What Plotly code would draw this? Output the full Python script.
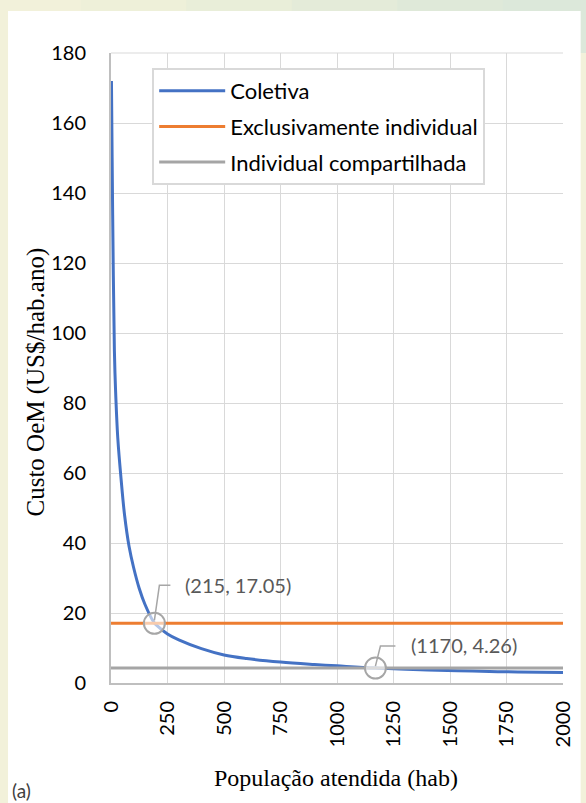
import plotly.graph_objects as go

# ---- data ----
pop_coletiva = [2, 5, 10, 15, 20, 30, 45, 60, 80, 100, 125, 150, 190, 200, 250, 300,
                400, 500, 600, 750, 900, 1000, 1170, 1400, 1600, 1800, 2000]
custo_coletiva = [172, 150, 118, 95, 84, 70, 58, 48, 39, 33, 27, 22.5, 17.3, 16.6, 14.0, 12.3,
                  9.8, 8.0, 7.0, 6.0, 5.3, 4.9, 4.26, 3.75, 3.4, 3.15, 3.0]
pop_range = [0, 2000]
custo_exclusiva = [17.05, 17.05]
custo_compartilhada = [4.26, 4.26]

series_names = ["Coletiva", "Exclusivamente individual", "Individual compartilhada"]
series_colors = ["#4472C4", "#ED7D31", "#A5A5A5"]

intersect_x = [192, 1170]
intersect_y = [17.05, 4.26]
intersect_labels = ["(215, 17.05)", "(1170, 4.26)"]

x_ticks = [0, 250, 500, 750, 1000, 1250, 1500, 1750, 2000]
y_ticks = [0, 20, 40, 60, 80, 100, 120, 140, 160, 180]

x_title = "População atendida (hab)"
y_title = "Custo OeM (US$/hab.ano)"
panel_label = "(a)"

SANS = "Lato, Open Sans, sans-serif"
SERIF = "Liberation Serif, Times New Roman, serif"

fig = go.Figure()

fig.add_trace(go.Scatter(x=pop_coletiva, y=custo_coletiva, mode="lines", legendgroup="a",
                         name=series_names[0], line=dict(color=series_colors[0], width=3, shape="spline")))
fig.add_trace(go.Scatter(x=pop_range, y=custo_exclusiva, mode="lines", legendgroup="b",
                         name=series_names[1], line=dict(color=series_colors[1], width=3)))
fig.add_trace(go.Scatter(x=pop_range, y=custo_compartilhada, mode="lines", legendgroup="c",
                         name=series_names[2], line=dict(color=series_colors[2], width=3)))
fig.add_trace(go.Scatter(x=intersect_x, y=intersect_y, mode="markers", showlegend=False,
                         marker=dict(size=21, color="rgba(255,255,255,0.6)",
                                     line=dict(color="#A6A6A6", width=2))))

W, H = 586, 803
L, R, T, B = 111, 572, 53, 683
pw, ph = R - L, B - T

shapes = []
# background decoration
shapes.append(dict(type="rect", xref="paper", yref="paper", x0=-0.3, x1=1.1, y0=-0.2, y1=1.1,
                   fillcolor="#F2F1DA", line=dict(width=0), layer="below"))
top_cols = ["#F2F1DA", "#EEF0D9", "#E9EED9", "#E4EBD9", "#DFE9D9", "#DCE8DA"]
n = len(top_cols)
for i, c in enumerate(top_cols):
    shapes.append(dict(type="rect", xref="paper", yref="paper",
                       x0=-0.3 + i * 1.4 / n, x1=-0.3 + (i + 1) * 1.4 / n + 0.01, y0=1.0, y1=1.1,
                       fillcolor=c, line=dict(width=0), layer="below"))
# white panel
shapes.append(dict(type="rect", xref="paper", yref="paper",
                   x0=(6 - L) / pw, x1=(590 - L) / pw, y0=(B - 810) / ph, y1=(B - 11) / ph,
                   fillcolor="white", line=dict(width=0), layer="below"))

# leader lines
leaders = ["M 0,3 L 5,38 L 16,38", "M 0,2 L 5,22 L 20,22"]
for xv, yv, p in zip(intersect_x, intersect_y, leaders):
    shapes.append(dict(type="path", xref="x", yref="y", xsizemode="pixel", ysizemode="pixel",
                       xanchor=xv, yanchor=yv, path=p, line=dict(color="#A6A6A6", width=1.5)))
# top frame gridline
shapes.append(dict(type="line", xref="paper", yref="paper", x0=0, x1=1, y0=1, y1=1,
                   line=dict(color="#D9D9D9", width=1)))

annotations = []
offsets = [(29, 38), (34, 23)]
for xv, yv, t, (dx, dy) in zip(intersect_x, intersect_y, intersect_labels, offsets):
    annotations.append(dict(x=xv, y=yv, xref="x", yref="y", text=t, showarrow=False,
                            xanchor="left", yanchor="middle", xshift=dx, yshift=dy,
                            font=dict(family=SANS, size=20, color="#595959")))
annotations.append(dict(x=(8 - L) / pw, y=(B - 790) / ph, xref="paper", yref="paper", text=panel_label,
                        showarrow=False, xanchor="left", yanchor="middle",
                        font=dict(family=SANS, size=19, color="#404040")))
annotations.append(dict(x=(340 - L) / pw, y=(B - 778) / ph, xref="paper", yref="paper", text=x_title,
                        showarrow=False, xanchor="center", yanchor="middle",
                        font=dict(family=SERIF, size=24, color="black")))
annotations.append(dict(x=(35 - L) / pw, y=(B - 382) / ph, xref="paper", yref="paper", text=y_title,
                        showarrow=False, xanchor="center", yanchor="middle", textangle=-90,
                        font=dict(family=SERIF, size=25, color="black")))

fig.update_layout(
    width=W, height=H,
    margin=dict(l=L, r=W - R, t=T, b=H - B, pad=0),
    paper_bgcolor="white", plot_bgcolor="white",
    shapes=shapes, annotations=annotations,
    showlegend=True,
    legend=dict(x=(153 - L) / pw, y=(B - 68) / ph, xanchor="left", yanchor="top",
                bgcolor="white", bordercolor="#D9D9D9", borderwidth=2,
                font=dict(family=SANS, size=22, color="black"),
                itemwidth=66, tracegroupgap=4, traceorder="grouped"),
    xaxis=dict(range=pop_range, tickvals=x_ticks, ticktext=[str(v) for v in x_ticks],
               tickangle=-90, showgrid=True, gridcolor="#D9D9D9", gridwidth=1,
               showline=True, linecolor="#BFBFBF", linewidth=2, zeroline=False, ticks="",
               ticklabelstandoff=8,
               tickfont=dict(family=SANS, size=20, color="black")),
    yaxis=dict(range=[0, 180], tickvals=y_ticks, showgrid=True, gridcolor="#D9D9D9", gridwidth=1,
               showline=True, linecolor="#BFBFBF", linewidth=2, zeroline=False, ticks="",
               ticklabelstandoff=19,
               tickfont=dict(family=SANS, size=20, color="black")),
)

fig.write_html("out.html", config={"displayModeBar": False},
               post_script="document.body.style.margin='0';document.body.style.overflow='hidden';")
